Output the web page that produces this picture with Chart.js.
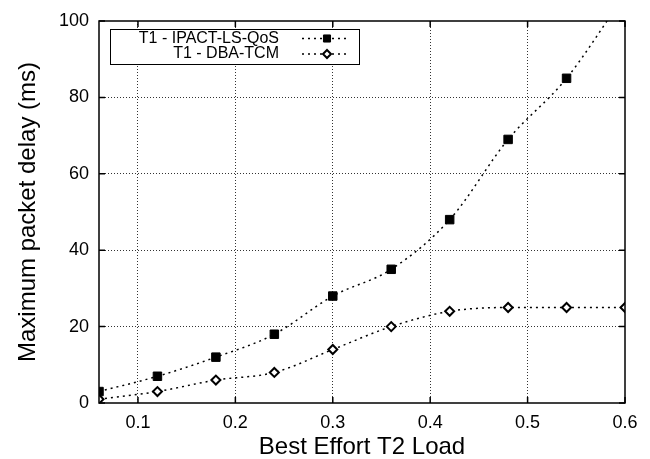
<!DOCTYPE html>
<html><head><meta charset="utf-8">
<script src="https://cdn.jsdelivr.net/npm/chart.js@4/dist/chart.umd.min.js"></script>
<style>html,body{margin:0;padding:0;background:#fff}#wrap{width:650px;height:459px}</style>
</head><body><div id="wrap"><canvas id="c" width="650" height="459"></canvas></div>
<script>
const loads = [0.06, 0.12, 0.18, 0.24, 0.30, 0.36, 0.42, 0.48, 0.54, 0.60];
const ipactDelay = [3, 7, 12, 18, 28, 35, 48, 69, 85, 107];
const dbaDelay = [1, 3, 6, 8, 14, 20, 24, 25, 25, 25];
const seriesNames = ['T1 - IPACT-LS-QoS', 'T1 - DBA-TCM'];
const xTicks = [0.1, 0.2, 0.3, 0.4, 0.5, 0.6];
const yTicks = [0, 20, 40, 60, 80, 100];
const xTitle = 'Best Effort T2 Load';
const yTitle = 'Maximum packet delay (ms)';

const FONT = "'Liberation Sans', Arial, Helvetica, sans-serif";

function pts(vals){ return loads.map((x,i)=>({x:x, y:vals[i]})); }

const frame = {
  id:'frame',
  afterDatasetsDraw(chart){
    const {ctx, chartArea:a, scales} = chart;
    ctx.save();
    ctx.strokeStyle = '#000';
    ctx.lineWidth = 1.5;
    ctx.setLineDash([]);
    ctx.strokeRect(a.left, a.top, a.right-a.left, a.bottom-a.top);
    const L = 6;
    xTicks.forEach(v=>{
      const px = scales.x.getPixelForValue(v);
      ctx.beginPath(); ctx.moveTo(px, a.bottom); ctx.lineTo(px, a.bottom-L);
      ctx.moveTo(px, a.top); ctx.lineTo(px, a.top+L); ctx.stroke();
    });
    yTicks.forEach(v=>{
      const py = scales.y.getPixelForValue(v);
      ctx.beginPath(); ctx.moveTo(a.left, py); ctx.lineTo(a.left+L, py);
      ctx.moveTo(a.right, py); ctx.lineTo(a.right-L, py); ctx.stroke();
    });
    // legend
    const bx = 110, by = 29, bw = 249, bh = 35;
    ctx.fillStyle = '#fff';
    ctx.fillRect(bx, by, bw, bh);
    ctx.lineWidth = 1;
    ctx.strokeRect(bx+0.5, by+0.5, bw, bh);
    ctx.font = "16px " + FONT;
    ctx.textAlign = 'right';
    ctx.textBaseline = 'middle';
    chart.data.datasets.forEach((ds, i)=>{
      const y = by + 9.5 + i*15.5;
      ctx.fillStyle = '#000';
      ctx.fillText(ds.label, 279, y);
      ctx.save();
      ctx.strokeStyle = '#000';
      ctx.lineWidth = 1.5;
      ctx.setLineDash([2,4]);
      ctx.beginPath(); ctx.moveTo(302, y); ctx.lineTo(350, y); ctx.stroke();
      ctx.restore();
      ctx.save();
      ctx.strokeStyle = '#000';
      ctx.fillStyle = ds.pointBackgroundColor;
      ctx.lineWidth = ds.pointBorderWidth;
      Chart.helpers.drawPoint(ctx, {pointStyle: ds.pointStyle, radius: ds.legendRadius, borderWidth: ds.pointBorderWidth, rotation:0}, 327, y);
      ctx.restore();
    });
    ctx.restore();
  }
};

new Chart(document.getElementById('c'), {
  type: 'line',
  data: {
    datasets: [
      {label: seriesNames[0], data: pts(ipactDelay), borderColor:'#000', borderWidth:1.5, borderDash:[2,4],
       pointStyle:'rect', pointRadius: c => (c.parsed && c.parsed.y > 100) ? 0 : 6, legendRadius:5,
       pointBackgroundColor:'#000', pointBorderColor:'#000', pointBorderWidth:1,
       cubicInterpolationMode:'monotone', fill:false},
      {label: seriesNames[1], data: pts(dbaDelay), borderColor:'#000', borderWidth:1.5, borderDash:[2,4],
       pointStyle:'rectRot', pointRadius:4.5, legendRadius:4,
       pointBackgroundColor:'#fff', pointBorderColor:'#000', pointBorderWidth:2,
       cubicInterpolationMode:'monotone', fill:false}
    ]
  },
  options: {
    responsive:false, animation:false, devicePixelRatio:1,
    layout:{padding:{top:21, right:25, left:0, bottom:0}},
    plugins:{legend:{display:false}, tooltip:{enabled:false}},
    scales:{
      x:{type:'linear', min:0.06, max:0.6,
        afterBuildTicks: s => { s.ticks = xTicks.map(v=>({value:v})); },
        afterFit: s => { s.height = 56; },
        ticks:{callback: v => v.toFixed(1), font:{family:FONT, size:18}, color:'#000', padding:9, maxRotation:0, autoSkip:false},
        grid:{drawTicks:false, lineWidth:1, color: c => (c.tick && c.tick.value >= 0.6) ? 'rgba(0,0,0,0)' : '#333'},
        border:{display:false, dash:[1,2]},
        title:{display:true, text:xTitle, font:{family:FONT, size:24, lineHeight:1}, color:'#000', padding:{top:0, bottom:0}}
      },
      y:{type:'linear', min:0, max:100,
        afterBuildTicks: s => { s.ticks = yTicks.map(v=>({value:v})); },
        afterFit: s => { s.width = 99; },
        ticks:{font:{family:FONT, size:18}, color:'#000', padding:10},
        grid:{drawTicks:false, lineWidth:1, color: c => (c.tick && (c.tick.value <= 0 || c.tick.value >= 100)) ? 'rgba(0,0,0,0)' : '#333'},
        border:{display:false, dash:[1,2]},
        title:{display:true, text:yTitle, font:{family:FONT, size:24, lineHeight:1}, color:'#000', padding:{top:16, bottom:0}}
      }
    }
  },
  plugins:[frame]
});
</script>
</body></html>
